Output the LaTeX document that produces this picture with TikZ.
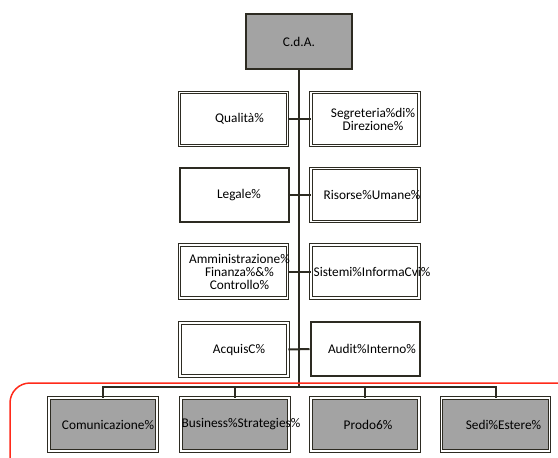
\documentclass[tikz,border=0pt]{standalone}
\usepackage{fontspec}
\setmainfont{Carlito}
\definecolor{frame}{HTML}{2D2B22}
\definecolor{boxgray}{HTML}{A3A3A3}
\definecolor{redline}{HTML}{FF2A1A}

\begin{document}
\begin{tikzpicture}[x=1pt, y=-1pt,
    font=\fontsize{13.3}{13}\selectfont,
    wbox/.style={draw=frame, fill=white, double=white, line width=0.9pt, double distance=1.3pt,
        minimum width=108pt, minimum height=53pt},
    sbox/.style={draw=frame, fill=white, line width=2pt, minimum width=109pt, minimum height=54pt},
    gbox/.style={wbox, fill=boxgray},
    spine/.style={draw=frame, line width=2.6pt},
    link/.style={draw=frame, line width=2pt}]
    \useasboundingbox (0,0) rectangle (558,458);

    % Draw top
    \node (cda) at (299,41.5) [sbox, fill=boxgray, minimum width=106pt, minimum height=55pt] {C.d.A.};

    % Draw staff boxes
    \node (qual) at (233.5,119) [wbox, label={[xshift=6pt]center:Qualità\%}] {};
    \node (segr) at (365,119) [wbox, label={[xshift=8pt, align=center]center:{Segreteria\%di\%\\Direzione\%}}] {};

    \node (leg) at (234,195) [sbox, label={[xshift=5pt]center:Legale\%}] {};
    \node (ris) at (365,195) [wbox, label={[xshift=7pt]center:Risorse\%Umane\%}] {};

    \node (amm) at (233.5,271.5) [wbox, label={[xshift=6pt, align=center]center:{Amministrazione\%\\Finanza\%\&\%\\Controllo\%}}] {};
    \node (sis) at (365,271.5) [wbox, label={[xshift=7pt]center:Sistemi\%InformaCvi\%}] {};

    \node (acq) at (234,349.5) [wbox, label={[xshift=5pt]center:AcquisC\%}] {};
    \node (aud) at (365,349) [sbox, label={[xshift=7pt]center:Audit\%Interno\%}] {};

    % Draw line boxes
    \node (com) at (103,424.5) [gbox, label={[xshift=5pt]center:Comunicazione\%}] {};
    \node (bus) at (235,424.5) [gbox, label={[xshift=6pt]center:Business\%Strategies\%}] {};
    \node (prod) at (365,424.5) [gbox, label={[xshift=3pt]center:Prodo6\%}] {};
    \node (sedi) at (495.5,424.5) [gbox, label={[xshift=8pt]center:Sedi\%Estere\%}] {};

    % Draw connectors
    \coordinate (bar) at (299,387);
    \draw[spine] (cda) -- (bar);
    \draw[link] (qual) -- (segr);
    \draw[link] (leg) -- (ris);
    \draw[link] (amm) -- (sis);
    \draw[link] (acq) -- (aud);
    \draw[link] (com.north) |- (bar) -| (sedi.north);
    \draw[link] (bus.north) -- (bus.north |- bar);
    \draw[link] (prod.north) -- (prod.north |- bar);

    % Draw red frame
    \begin{scope}
        \clip (0,0) rectangle (558,458);
        \draw[redline, line width=1.5pt, rounded corners=20pt] (10,383) rectangle (600,500);
    \end{scope}
\end{tikzpicture}
\end{document}
